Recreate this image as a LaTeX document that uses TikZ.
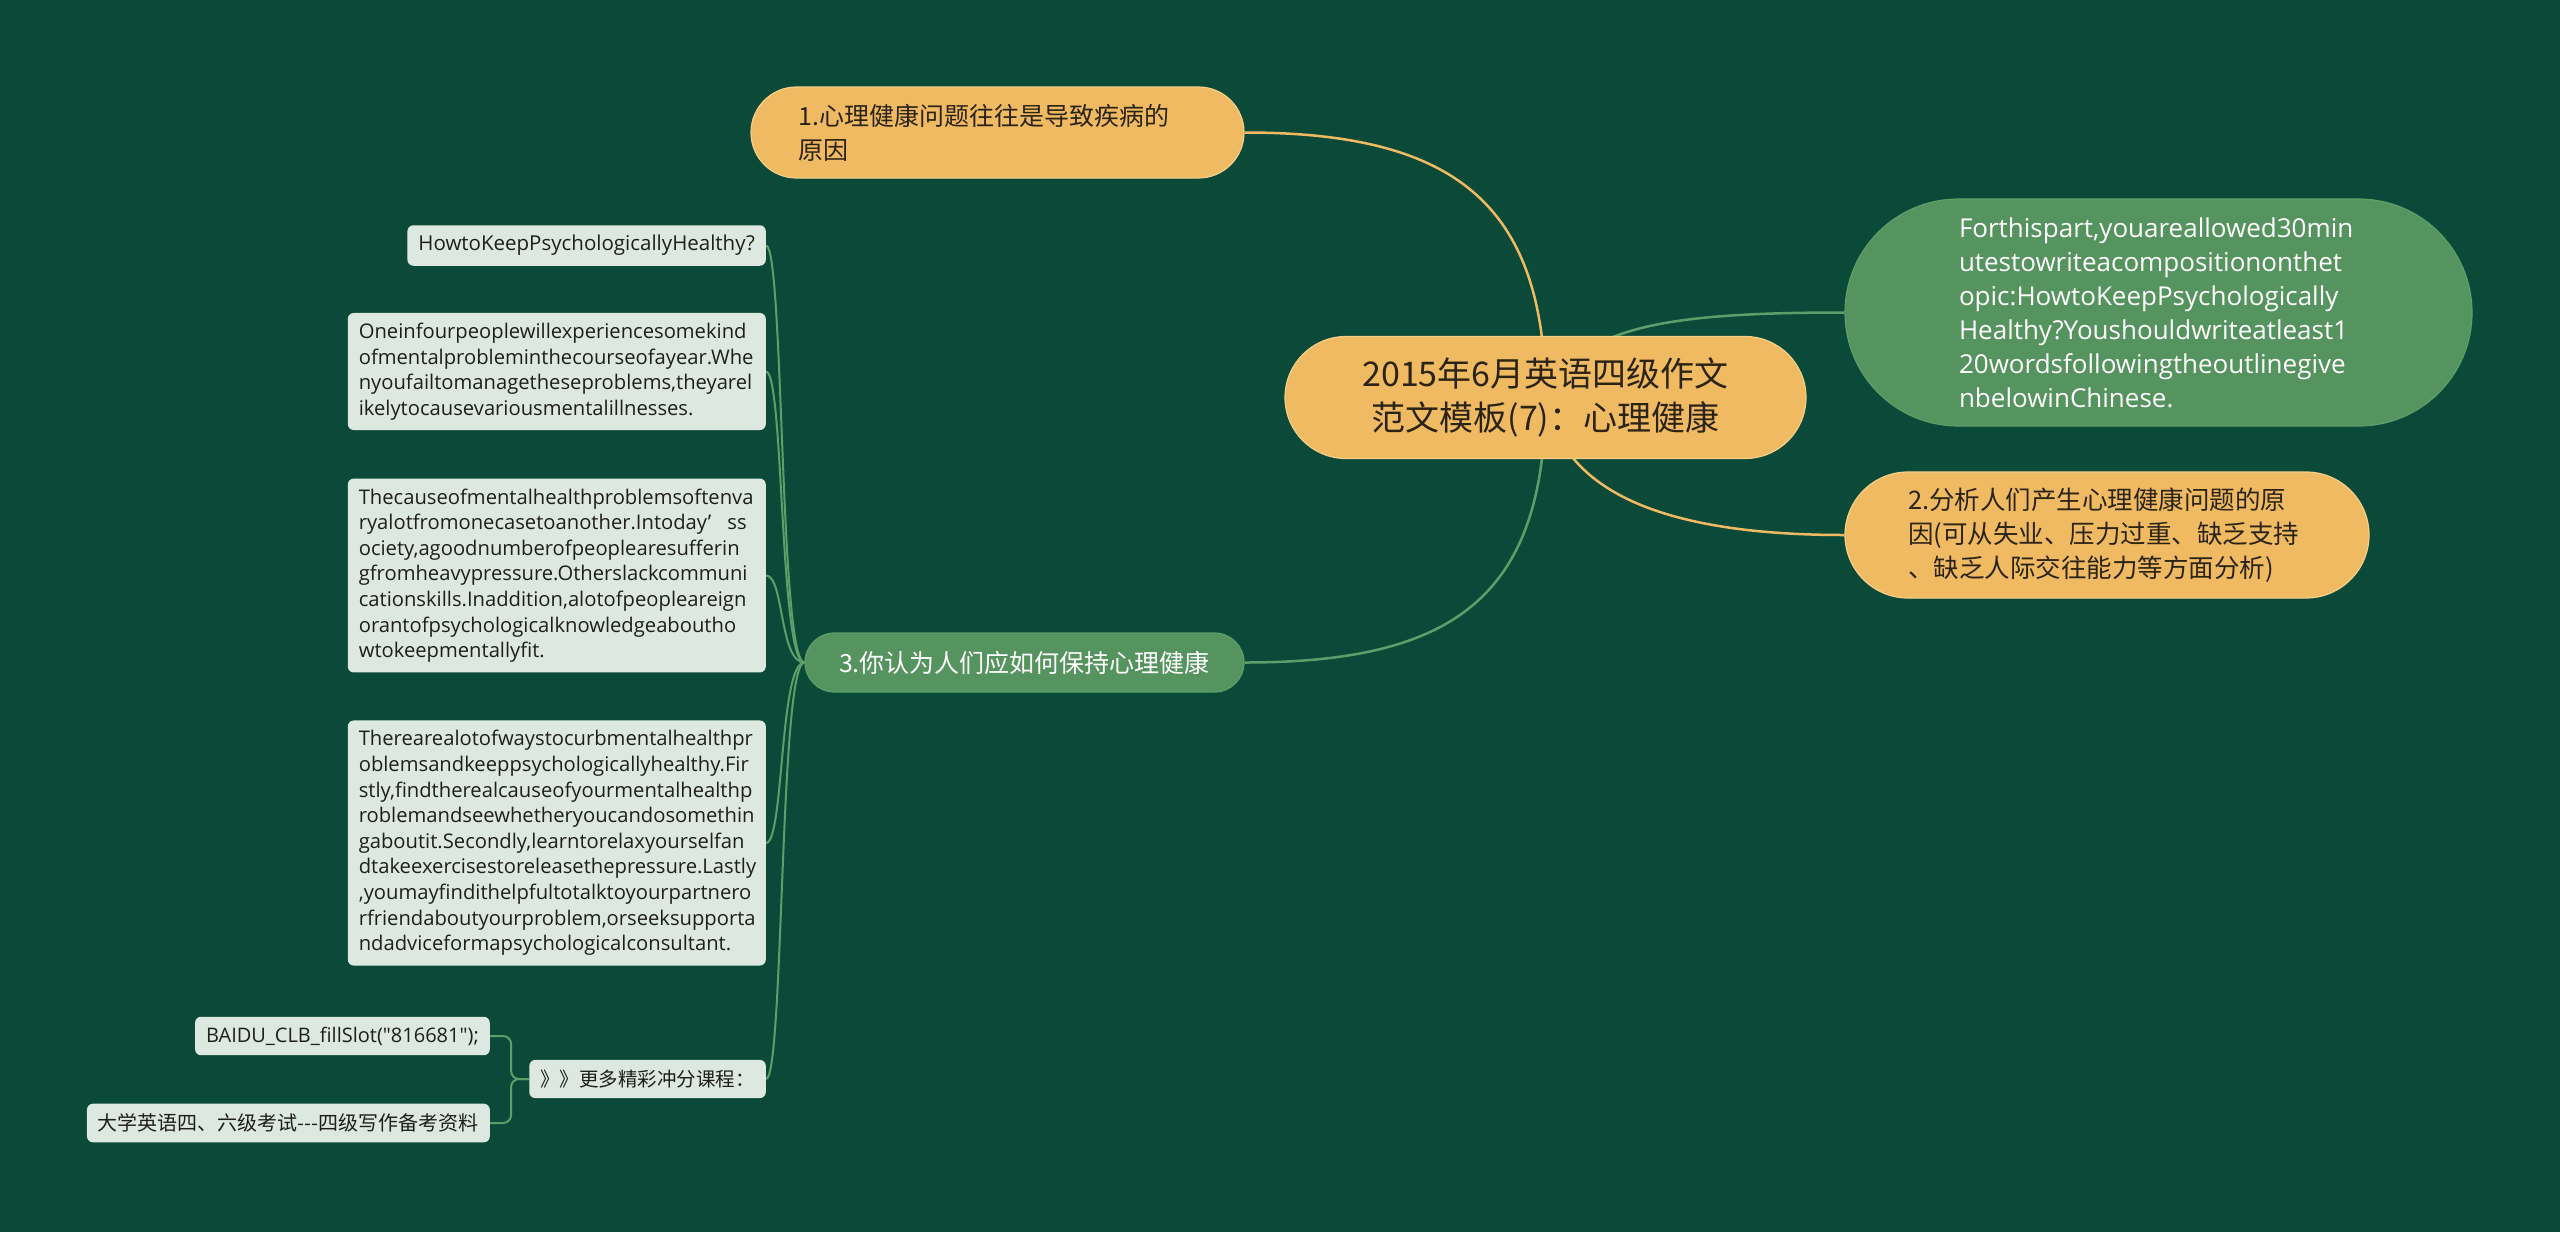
\documentclass[tikz,border=0pt]{standalone}
\usepackage{fontspec}
\setmainfont{Open Sans}
\newfontfamily\osplain{Open Sans}
\newfontfamily\cjk{Noto Sans CJK SC}
\pgfdeclarelayer{bgfill}
\pgfdeclarelayer{links}
\pgfsetlayers{bgfill,links,main}
\definecolor{bgc}{HTML}{0B4A39}
\definecolor{orng}{HTML}{F0BA62}
\definecolor{orngb}{HTML}{F5CF88}
\definecolor{grn}{HTML}{56945F}
\definecolor{grnl}{HTML}{5E9F69}
\definecolor{leafc}{HTML}{DDE9E0}
\definecolor{dtxt}{HTML}{2B2414}
\definecolor{ltxt}{HTML}{1E1E1E}
\begin{document}
\begin{tikzpicture}[x=1pt,y=-1pt,
  orangepill/.style={rectangle, fill=orng, draw=orngb, line width=1.2pt, inner sep=0pt, text=dtxt},
  greenpill/.style={rectangle, fill=grn, draw=grnl, line width=1.2pt, inner sep=0pt, text=white},
  leafbox/.style={rectangle, fill=leafc, rounded corners=6pt, inner xsep=11pt, inner ysep=10pt, text=ltxt, anchor=east},
  leaftxt/.style={text width=396pt, align=left, font=\fontsize{20.2}{25.6}\selectfont},
  olink/.style={draw=orng, line width=2.5pt},
  glink/.style={draw=grnl, line width=2.5pt},
  glinkb/.style={draw=grnl, line width=2pt}]
\useasboundingbox (0,0) rectangle (2560,1232);
\begin{pgfonlayer}{bgfill}
\fill[bgc] (0,0) rectangle (2560,1232);
\end{pgfonlayer}

\node[orangepill, minimum width=521pt, minimum height=122pt, rounded corners=61pt, align=center,
      font=\cjk\fontsize{34}{44}\selectfont] (root) at (1545.5,397.5)
      {2015年6月英语四级作文\\范文模板(7)：心理健康};

\node[orangepill, minimum width=493pt, minimum height=91pt, rounded corners=45.5pt, text width=398pt, align=left,
      font=\cjk\fontsize{25}{34}\selectfont] (n1) at (997.5,132.5)
      {1.心理健康问题往往是导致疾病的\\原因};

\node[greenpill, minimum width=627pt, minimum height=227pt, rounded corners=113.5pt, text width=399pt, align=left,
      font=\fontsize{26}{34}\selectfont] (gn) at (2158.5,312.5)
      {Forthispart,youareallowed30min\\utestowriteacompositiononthet\\opic:HowtoKeepPsychologically\\Healthy?Youshouldwriteatleast1\\20wordsfollowingtheoutlinegive\\nbelowinChinese.};

\node[orangepill, minimum width=524pt, minimum height=126pt, rounded corners=63pt, text width=398pt, align=left,
      font=\cjk\fontsize{25.5}{34}\selectfont] (n2) at (2107,535)
      {2.分析人们产生心理健康问题的原\\因(可从失业、压力过重、缺乏支持\\、缺乏人际交往能力等方面分析)};

\node[greenpill, minimum width=439pt, minimum height=59pt, rounded corners=29.5pt, align=center,
      font=\cjk\fontsize{25}{30}\selectfont] (n3) at (1024.5,662.5)
      {3.你认为人们应如何保持心理健康};

\node[leafbox, font=\fontsize{20.5}{25.6}\selectfont] (l1) at (766,245.5) {HowtoKeepPsychologicallyHealthy?};
\node[leafbox, leaftxt] (l2) at (766,371.5)
  {Oneinfourpeoplewillexperiencesomekind\\ofmentalprobleminthecourseofayear.Whe\\nyoufailtomanagetheseproblems,theyarel\\ikelytocausevariousmentalillnesses.};
\node[leafbox, leaftxt] (l3) at (766,575.5)
  {Thecauseofmentalhealthproblemsoftenva\\\mbox{ryalotfromonecasetoanother.Intoday’\kern16pt ss}\\ociety,agoodnumberofpeoplearesufferin\\gfromheavypressure.Otherslackcommuni\\cationskills.Inaddition,alotofpeopleareign\\orantofpsychologicalknowledgeaboutho\\wtokeepmentallyfit.};
\node[leafbox, leaftxt] (l4) at (766,843)
  {Therearealotofwaystocurbmentalhealthpr\\oblemsandkeeppsychologicallyhealthy.Fir\\stly,findtherealcauseofyourmentalhealthp\\roblemandseewhetheryoucandosomethin\\gaboutit.Secondly,learntorelaxyourselfan\\dtakeexercisestoreleasethepressure.Lastly\\,youmayfindithelpfultotalktoyourpartnero\\rfriendaboutyourproblem,orseeksupporta\\ndadviceformapsychologicalconsultant.};
\node[leafbox, font=\cjk\fontsize{19.5}{25.6}\selectfont] (l5) at (766,1079) {》》更多精彩冲分课程：};
\node[leafbox, font=\osplain\fontsize{20}{25.6}\selectfont] (b1) at (490,1036) {BAIDU\_CLB\_fillSlot("816681");};
\node[leafbox, font=\cjk\fontsize{20}{25.6}\selectfont] (b2) at (490,1123) {大学英语四、六级考试-{}-{}-四级写作备考资料};

\begin{pgfonlayer}{links}
\draw[olink] (root.center) .. controls (1545,200) and (1450,132.5) .. (n1.east);
\draw[glink] (root.center) .. controls (1580,330) and (1650,312.5) .. (gn.west);
\draw[olink] (root.center) .. controls (1560,480) and (1640,535) .. (n2.west);
\draw[glink] (root.center) .. controls (1545,600) and (1450,662.5) .. (n3.east);
\foreach \lf in {l1,l2,l3,l4,l5}
  \draw[glinkb] (n3.west) .. controls +(-25,0) and +(18,0) .. (\lf.east);
\draw[glinkb, rounded corners=8pt] (l5.west) -- ++(-18,0) |- (b1.east);
\draw[glinkb, rounded corners=8pt] (l5.west) -- ++(-18,0) |- (b2.east);
\end{pgfonlayer}
\end{tikzpicture}
\end{document}
